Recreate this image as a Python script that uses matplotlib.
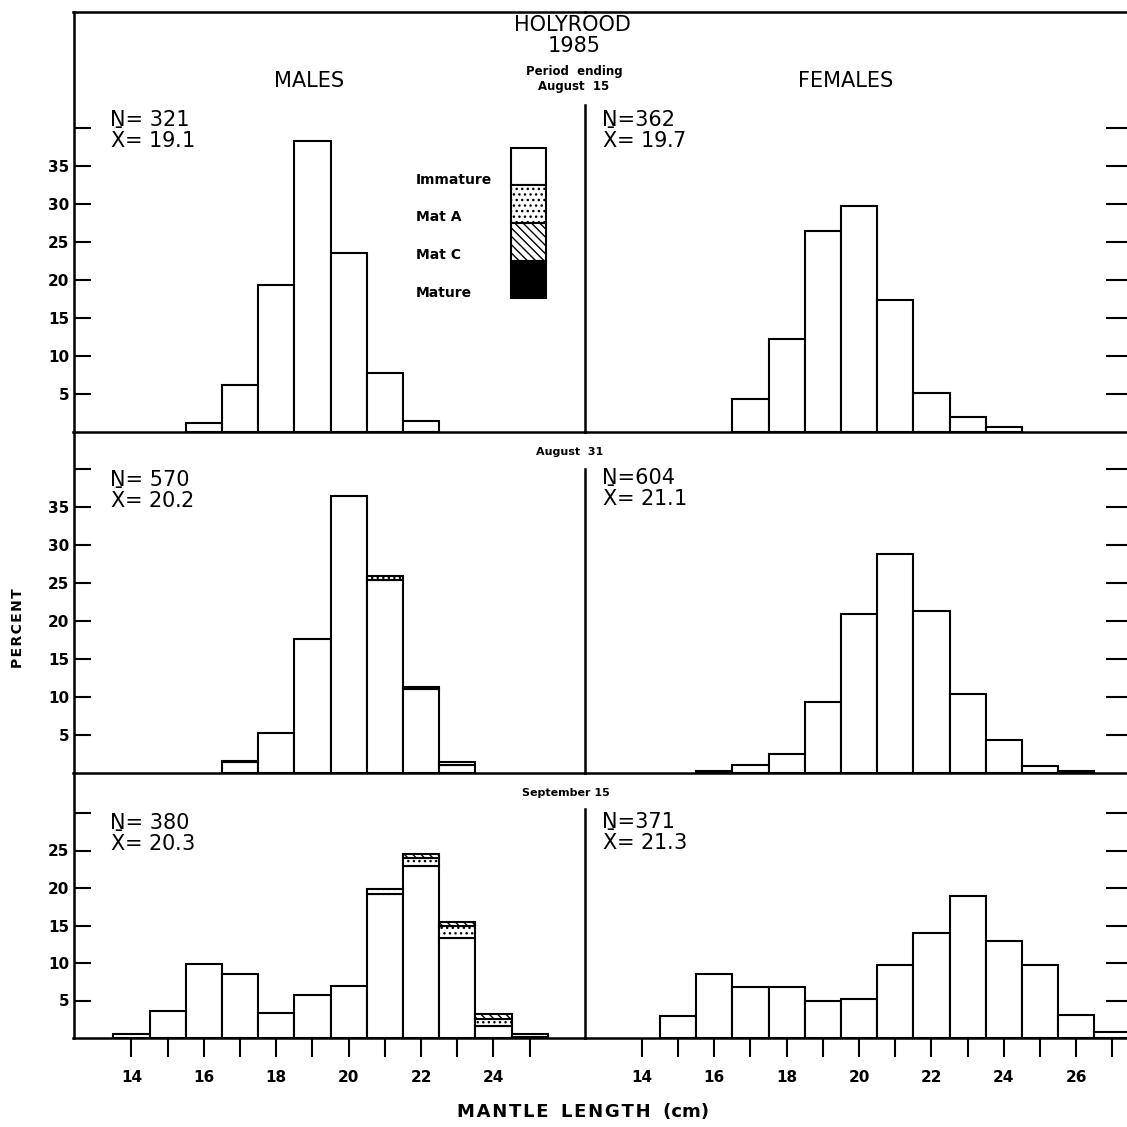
import matplotlib
matplotlib.use("Agg")
import matplotlib.pyplot as plt
from matplotlib.patches import Rectangle

plt.rcParams["font.family"] = ["DejaVu Sans"]
plt.rcParams["mathtext.fontset"] = "dejavusans"
plt.rcParams["hatch.linewidth"] = 1.0

# ---------------- data ----------------
male_bins = [14, 15, 16, 17, 18, 19, 20, 21, 22, 23, 24, 25]
female_bins = [14, 15, 16, 17, 18, 19, 20, 21, 22, 23, 24, 25, 26, 27]

# Period ending August 15
m1_immature = [0, 0, 1.2, 6.2, 19.4, 38.3, 23.6, 7.7, 1.5, 0, 0, 0]
m1_matA = [0] * 12
m1_matC = [0] * 12
m1_mature = [0] * 12
f1 = [0, 0, 0, 4.4, 12.2, 26.4, 29.8, 17.4, 5.1, 2.0, 0.6, 0, 0, 0]

# August 31
m2_immature = [0, 0, 0, 1.4, 5.3, 17.6, 36.4, 25.4, 11.1, 1.0, 0, 0]
m2_matA = [0, 0, 0, 0.2, 0, 0, 0, 0.5, 0.2, 0.5, 0, 0]
m2_matC = [0] * 12
m2_mature = [0] * 12
f2 = [0, 0, 0.3, 1.0, 2.5, 9.3, 20.9, 28.8, 21.3, 10.4, 4.4, 0.9, 0.3, 0]

# September 15
m3_immature = [0.6, 3.6, 9.9, 8.6, 3.4, 5.8, 6.9, 19.2, 23.0, 13.3, 1.6, 0.2]
m3_matA = [0, 0, 0, 0, 0, 0, 0, 0.7, 1.0, 1.7, 1.0, 0.3]
m3_matC = [0, 0, 0, 0, 0, 0, 0, 0, 0.6, 0.5, 0.6, 0]
m3_mature = [0] * 12
f3 = [0, 2.9, 8.6, 6.8, 6.8, 4.9, 5.2, 9.7, 14.0, 19.0, 13.0, 9.7, 3.1, 0.8]

n_male = ["321", "570", "380"]
mean_male = ["19.1", "20.2", "20.3"]
n_female = ["362", "604", "371"]
mean_female = ["19.7", "21.1", "21.3"]
period_labels = ["Period  ending\nAugust  15", "August  31", "September 15"]

stages = ["Immature", "Mat A", "Mat C", "Mature"]
stage_face = ["white", "white", "white", "black"]
stage_hatch = [None, "...", "\\\\\\\\", None]

male_xticks = [14, 15, 16, 17, 18, 19, 20, 21, 22, 23, 24, 25]
male_xlabels = ["14", "", "16", "", "18", "", "20", "", "22", "", "24", ""]
female_xticks = [14, 15, 16, 17, 18, 19, 20, 21, 22, 23, 24, 25, 26, 27]
female_xlabels = ["14", "", "16", "", "18", "", "20", "", "22", "", "24", "", "26", ""]

# ---------------- layout (pixels) ----------------
W = 1127.0
def fx(px):
    return px / W
def fy(py):
    return 1 - py / W

rows = [(12, 432), (432, 773), (773, 1038)]
px_per_unit = [7.6, 7.6, 7.5]
x_left, x_div, x_right = 73.5, 585.0, 1127.0
px_per_cm = 36.2
male_x0 = 12.4
female_x0 = 12.43
div_top = [43, 40, 30.5]
ytick_sets = [[5, 10, 15, 20, 25, 30, 35, 40], [5, 10, 15, 20, 25, 30, 35, 40],
              [5, 10, 15, 20, 25, 30]]

fig = plt.figure(figsize=(11.27, 11.27), dpi=100)

male_data = [
    (m1_immature, m1_matA, m1_matC, m1_mature),
    (m2_immature, m2_matA, m2_matC, m2_mature),
    (m3_immature, m3_matA, m3_matC, m3_mature),
]
female_data = [f1, f2, f3]

LW = 1.5
for r, (top, bot) in enumerate(rows):
    h = (bot - top)
    ymax = h / px_per_unit[r]
    axm = fig.add_axes([fx(x_left), fy(bot), fx(x_div - x_left), h / W])
    axf = fig.add_axes([fx(x_div), fy(bot), fx(x_right - x_div), h / W])
    for ax in (axm, axf):
        ax.set_ylim(0, ymax)
        ax.patch.set_alpha(0)
        for s in ax.spines.values():
            s.set_linewidth(1.8)
    axm.set_xlim(male_x0, male_x0 + (x_div - x_left) / px_per_cm)
    axf.set_xlim(female_x0, female_x0 + (x_right - x_div) / px_per_cm)

    # male stacked bars
    bottoms = [0.0] * len(male_bins)
    for k, series in enumerate(male_data[r]):
        xs = [b for b, v in zip(male_bins, series) if v > 0]
        hs = [v for v in series if v > 0]
        bs = [bo for bo, v in zip(bottoms, series) if v > 0]
        if xs:
            axm.bar(xs, hs, bottom=bs, width=1.0, facecolor=stage_face[k],
                    edgecolor="black", hatch=stage_hatch[k], linewidth=LW, zorder=2)
        bottoms = [bo + v for bo, v in zip(bottoms, series)]

    fx_ = [b for b, v in zip(female_bins, female_data[r]) if v > 0]
    fh_ = [v for v in female_data[r] if v > 0]
    axf.bar(fx_, fh_, width=1.0, facecolor="white", edgecolor="black",
            linewidth=LW, zorder=2)

    # spines
    axm.spines["right"].set_visible(False)
    axf.spines["right"].set_visible(False)
    axf.spines["left"].set_bounds(0, div_top[r])
    if r != 0:
        axm.spines["top"].set_visible(False)
        axf.spines["top"].set_visible(False)

    # y ticks
    yt = ytick_sets[r]
    ylabels = [str(v) for v in yt[:-1]] + [""]
    axm.set_yticks(yt)
    axm.set_yticklabels(ylabels, fontsize=11, fontweight="bold")
    axm.tick_params(axis="y", direction="in", length=12, width=1.5, pad=3)
    axf.set_yticks(yt)
    axf.tick_params(axis="y", left=False, labelleft=False, right=True,
                    direction="in", length=15, width=1.5)

    # x ticks
    if r == 2:
        axm.set_xticks(male_xticks)
        axm.set_xticklabels(male_xlabels, fontsize=11, fontweight="bold")
        axf.set_xticks(female_xticks)
        axf.set_xticklabels(female_xlabels, fontsize=11, fontweight="bold")
        for ax in (axm, axf):
            ax.tick_params(axis="x", direction="out", length=14, width=1.5, pad=9)
    else:
        for ax in (axm, axf):
            ax.set_xticks([])

# ---------------- texts ----------------
def ftext(x, y, s, **kw):
    fig.text(fx(x), fy(y), s, **kw)

ftext(572, 25, "HOLYROOD", fontsize=15, ha="center", va="center")
ftext(574, 46, "1985", fontsize=15, ha="center", va="center")
ftext(574, 79, period_labels[0], fontsize=8.5, fontweight="bold", ha="center",
      va="center", linespacing=1.2)
ftext(570, 452, period_labels[1], fontsize=8, fontweight="bold", ha="center", va="center")
ftext(566, 793, period_labels[2], fontsize=8, fontweight="bold", ha="center", va="center")

ftext(309, 81, "MALES", fontsize=15, ha="center", va="center")
ftext(846, 81, "FEMALES", fontsize=15, ha="center", va="center")

male_ny = [120, 480, 823]
female_ny = [120, 478, 822]
for r in range(3):
    ftext(110, male_ny[r], "N= " + n_male[r], fontsize=15, ha="left", va="center")
    ftext(110, male_ny[r] + 20, r"$\bar{\mathrm{X}}$= " + mean_male[r], fontsize=15,
          ha="left", va="center")
    ftext(602, female_ny[r], "N=" + n_female[r], fontsize=15, ha="left", va="center")
    ftext(602, female_ny[r] + 20, r"$\bar{\mathrm{X}}$= " + mean_female[r], fontsize=15,
          ha="left", va="center")

# legend
leg_x0, leg_x1 = 511, 546
leg_edges = [148, 185, 223, 261, 298]
leg_label_y = [180, 217, 255, 293]
for k in range(4):
    y0, y1 = leg_edges[k], leg_edges[k + 1]
    fig.add_artist(Rectangle((fx(leg_x0), fy(y1)), fx(leg_x1 - leg_x0), (y1 - y0) / W,
                             transform=fig.transFigure, facecolor=stage_face[k],
                             edgecolor="black", hatch=stage_hatch[k], linewidth=1.5))
    ftext(416, leg_label_y[k], stages[k], fontsize=10, fontweight="bold",
          ha="left", va="center")

xlab = "\u200a".join("MANTLE") + "  " + "\u200a".join("LENGTH") + "  (cm)"
ftext(583, 1112, xlab, fontsize=13, fontweight="bold", ha="center", va="center")
ftext(18, 628, "\u200a".join("PERCENT"), fontsize=10, fontweight="bold", ha="center",
      va="center", rotation=90)

fig.savefig("out.png", dpi=100, facecolor="white")
